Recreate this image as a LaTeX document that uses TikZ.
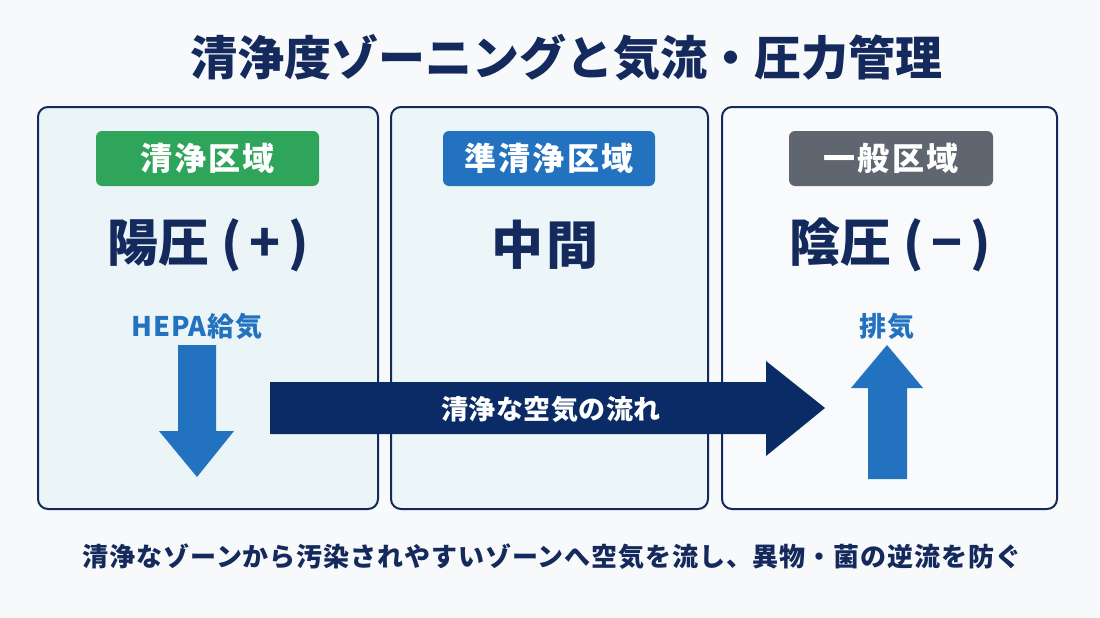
\documentclass[tikz,border=0pt]{standalone}
\usepackage{fontspec}
\setmainfont{Noto Sans CJK JP}
\usepackage{tikz}
\usetikzlibrary{positioning, calc}

\definecolor{navy}{HTML}{14295C}
\definecolor{flownavy}{HTML}{0B2B66}
\definecolor{airblue}{HTML}{2272BF}
\definecolor{cleangreen}{HTML}{2EA55B}
\definecolor{generalgray}{HTML}{5F6670}
\definecolor{bgwhite}{HTML}{F8F9FA}
\definecolor{cleanfill}{HTML}{EBF4F6}
\definecolor{semifill}{HTML}{ECF5F8}
\definecolor{generalfill}{HTML}{F8FAFB}

\tikzset{
    panel/.style={draw=navy, line width=2pt, rounded corners=10pt, inner sep=0pt,
                  minimum height=402pt},
    tag/.style={fill=#1, rounded corners=6pt, minimum height=55pt, text=white, inner sep=0pt,
                font=\bfseries\fontsize{32}{34}\selectfont\addfontfeature{LetterSpace=7}},
    pressure/.style={text=navy, font=\bfseries\fontsize{51}{55}\selectfont},
    airlabel/.style={text=airblue, font=\bfseries\fontsize{27}{29}\selectfont\addfontfeature{LetterSpace=3}},
    blockarrow/.style={fill=#1, draw=none}
}

\begin{document}
\begin{tikzpicture}[x=1pt, y=-1pt]

    % Background
    \fill[bgwhite] (0,0) rectangle (1100,618);
    \useasboundingbox (0,0) rectangle (1100,618);

    % Title
    \node[text=navy, font=\bfseries\fontsize{47}{51}\selectfont] (title) at (566,58)
        {清浄度ゾーニングと気流・圧力管理};

    % Zones
    \node[panel, fill=cleanfill, minimum width=340pt] (zoneClean) at (208,308) {};
    \node[panel, fill=semifill, minimum width=317pt] (zoneSemi) at (549.5,308) {};
    \node[panel, fill=generalfill, minimum width=335pt] (zoneGeneral) at (889.5,308) {};

    % Zone tags
    \node[tag=cleangreen, minimum width=223pt] (tagClean) at (207.5,158.5) {清浄区域};
    \node[tag=airblue, minimum width=212pt] (tagSemi) at (549,158.5) {準清浄区域};
    \node[tag=generalgray, minimum width=204pt] (tagGeneral) at (891,158.5) {一般区域};

    % Pressure labels
    \node[pressure] (posPressure) at (208,245) {陽圧\hspace{12pt}(\hspace{8pt}+\hspace{8pt})};
    \node[pressure, font=\bfseries\fontsize{52}{56}\selectfont\addfontfeature{LetterSpace=5}]
        (midPressure) at (545,245) {中間};
    \node[pressure] (negPressure) at (890,245) {陰圧\hspace{12pt}(\hspace{8pt}−\hspace{8pt})};

    % Supply and exhaust
    \node[airlabel] (supply) at (197,326) {HEPA給気};
    \node[airlabel] (exhaust) at (887,326) {排気};

    % Supply arrow pointing down
    \fill[blockarrow=airblue] (178,345) -- (216,345) -- (216,431) -- (234,431)
        -- (197,477) -- (159,431) -- (178,431) -- cycle;

    % Exhaust arrow pointing up
    \fill[blockarrow=airblue] (868,479) -- (907,479) -- (907,388) -- (923,388)
        -- (887,345) -- (851,388) -- (868,388) -- cycle;

    % Clean air flow
    \fill[blockarrow=flownavy] (270,382) -- (766,382) -- (766,361) -- (825,408)
        -- (766,456) -- (766,434) -- (270,434) -- cycle;
    \node[text=white, font=\bfseries\fontsize{27}{29}\selectfont\addfontfeature{LetterSpace=2}]
        (flow) at (551,409) {清浄な空気の流れ};

    % Caption
    \node[text=navy, font=\bfseries\fontsize{26}{28}\selectfont\addfontfeature{LetterSpace=3.5}]
        (caption) at (552,557)
        {清浄なゾーンから汚染されやすいゾーンへ空気を流し、異物・菌の逆流を防ぐ};

\end{tikzpicture}
\end{document}
